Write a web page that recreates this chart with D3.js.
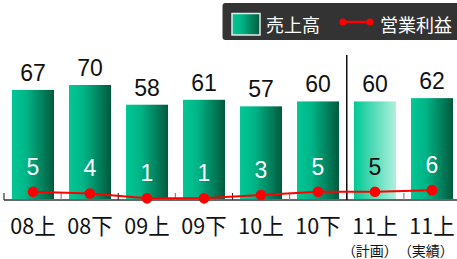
<!DOCTYPE html>
<html><head><meta charset="utf-8">
<script src="https://cdn.jsdelivr.net/npm/d3@7"></script>
<style>body{margin:0;background:#fff}svg{display:block}</style>
</head><body>
<svg id="c" width="457" height="259"></svg>
<script>
const categories = ["08上","08下","09上","09下","10上","10下","11上","11上"];
const subLabels = ["","","","","","","（計画）","（実績）"];
const sales = [67,70,58,61,57,60,60,62];
const profit = [5,4,1,1,3,5,5,6];
const planIndex = 6;

const svg = d3.select("#c");
const font = "'Liberation Sans','Noto Sans CJK JP',sans-serif";
const jpFont = "'Noto Sans CJK JP','Liberation Sans',sans-serif";

const idx = d3.range(categories.length);
const xOuter = d3.scaleBand().domain(idx).range([4, 461]).padding(0);
const x = d3.scaleBand().domain(idx).range([4, 461]).paddingInner(0.2626).paddingOuter(0.14);
const y = d3.scaleLinear().domain([0, 70]).range([200, 85]);

const defs = svg.append("defs");
const g1 = defs.append("linearGradient").attr("id","gBar").attr("x1","0").attr("x2","1").attr("y1","0").attr("y2","0");
g1.append("stop").attr("offset","0").attr("stop-color","#00c896");
g1.append("stop").attr("offset","0.35").attr("stop-color","#00b486");
g1.append("stop").attr("offset","1").attr("stop-color","#005a3e");
const g2 = defs.append("linearGradient").attr("id","gPlan").attr("x1","0").attr("x2","1").attr("y1","0").attr("y2","0");
g2.append("stop").attr("offset","0").attr("stop-color","#00c894");
g2.append("stop").attr("offset","1").attr("stop-color","#b0f0de");

// bars
svg.append("g").selectAll("rect").data(idx).join("rect")
  .attr("x", i => x(i)).attr("width", x.bandwidth())
  .attr("y", i => y(sales[i])).attr("height", i => y(0) - y(sales[i]))
  .attr("fill", i => i === planIndex ? "url(#gPlan)" : "url(#gBar)");

// axis line and ticks
svg.append("line").attr("x1", 4).attr("x2", 457).attr("y1", y(0)).attr("y2", y(0))
  .attr("stroke", "#666").attr("stroke-width", 2);
svg.append("g").selectAll("line").data(idx).join("line")
  .attr("x1", i => xOuter(i)).attr("x2", i => xOuter(i))
  .attr("y1", y(0) - 7).attr("y2", y(0))
  .attr("stroke", (i) => i % 2 ? "#888" : "#333").attr("stroke-width", 1.2);

// separator line
svg.append("line").attr("x1", xOuter(planIndex)).attr("x2", xOuter(planIndex))
  .attr("y1", 55).attr("y2", y(0)).attr("stroke", "#111").attr("stroke-width", 1.5);

// sales labels
svg.append("g").selectAll("text").data(idx).join("text")
  .attr("x", i => x(i) + x.bandwidth()/2).attr("y", i => y(sales[i]) - 9)
  .attr("text-anchor","middle").attr("font-family", font).attr("font-size", 23)
  .attr("fill","#111").text(i => sales[i]);

// profit labels
svg.append("g").selectAll("text").data(idx).join("text")
  .attr("x", i => x(i) + x.bandwidth()/2).attr("y", i => y(profit[i]) - 17)
  .attr("text-anchor","middle").attr("font-family", font).attr("font-size", 23)
  .attr("fill", i => i === planIndex ? "#111" : "#fff").text(i => profit[i]);

// profit line
const line = d3.line().x(i => x(i) + x.bandwidth()/2).y(i => y(profit[i]));
svg.append("path").datum(idx).attr("d", line).attr("fill","none")
  .attr("stroke","#ff0000").attr("stroke-width", 2);
svg.append("g").selectAll("circle").data(idx).join("circle")
  .attr("cx", i => x(i) + x.bandwidth()/2).attr("cy", i => y(profit[i]))
  .attr("r", 5.3).attr("fill","#ff0000");

// x labels
svg.append("g").selectAll("text").data(idx).join("text")
  .attr("x", i => x(i) + x.bandwidth()/2).attr("y", 234)
  .attr("text-anchor","middle").attr("font-family", jpFont).attr("font-size", 21.5)
  .attr("fill","#111").text(i => categories[i]);
svg.append("g").selectAll("text").data(idx.filter(i => subLabels[i])).join("text")
  .attr("x", xOuter(planIndex + 1) - 6).attr("y", 256)
  .attr("text-anchor", i => i === planIndex ? "end" : "start")
  .attr("font-family", jpFont).attr("font-size", 14)
  .attr("fill","#111").text(i => subLabels[i]);

// legend
const lg = svg.append("g");
lg.append("rect").attr("x", 222.5).attr("y", 3).attr("width", 240).attr("height", 37)
  .attr("rx", 3).attr("fill", "#333");
lg.append("rect").attr("x", 232).attr("y", 13.5).attr("width", 28).attr("height", 21.5)
  .attr("fill", "url(#gBar)").attr("stroke", "#e8e8e8").attr("stroke-width", 1.5);
lg.append("text").attr("x", 266).attr("y", 32).attr("font-family", jpFont).attr("font-size", 18)
  .attr("fill", "#fff").text("売上高");
lg.append("line").attr("x1", 343).attr("x2", 370).attr("y1", 22).attr("y2", 22)
  .attr("stroke", "#ff0000").attr("stroke-width", 2.5);
lg.selectAll("circle").data([343, 370]).join("circle")
  .attr("cx", d => d).attr("cy", 22).attr("r", 3.5).attr("fill", "#ff0000");
lg.append("text").attr("x", 380).attr("y", 32).attr("font-family", jpFont).attr("font-size", 18)
  .attr("fill", "#fff").text("営業利益");
</script>
</body></html>
